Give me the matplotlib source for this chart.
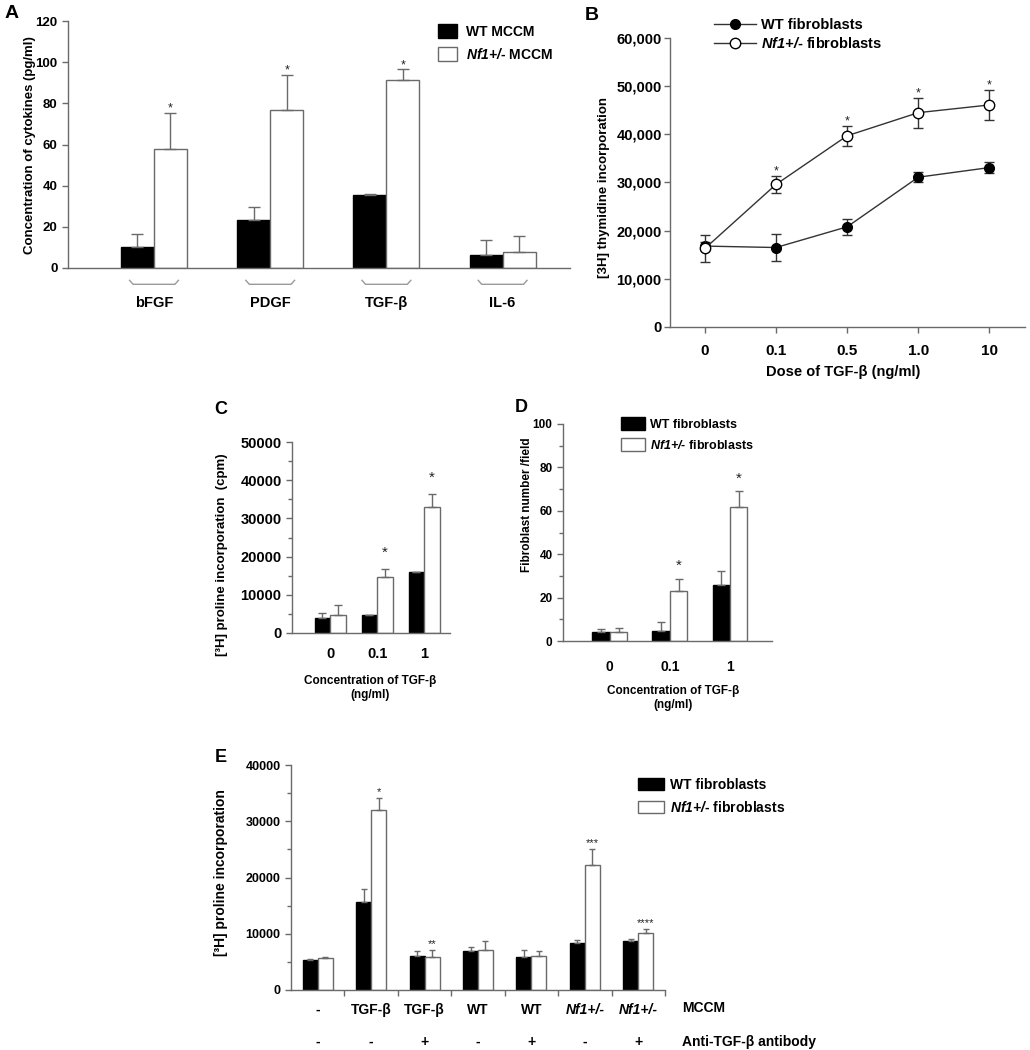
import matplotlib
matplotlib.use('Agg')
import numpy as np
import matplotlib.pyplot as plt
from matplotlib import transforms
from matplotlib.patches import Patch
from matplotlib.lines import Line2D

plt.rcParams['font.family'] = ['Liberation Sans', 'DejaVu Sans']
plt.rcParams['font.weight'] = 'bold'
plt.rcParams['mathtext.fontset'] = 'custom'
plt.rcParams['mathtext.it'] = 'Liberation Sans:italic:bold'
plt.rcParams['mathtext.rm'] = 'Liberation Sans:italic:bold'
plt.rcParams['mathtext.bf'] = 'Liberation Sans:italic:bold'

# ---- data ----
# A: cytokines in MCCM (pg/ml)
A_cats = ['bFGF', 'PDGF', 'TGF-β', 'IL-6']
A_wt = [10, 23.5, 35.5, 6.5]
A_wt_err = [6.5, 6, 0.3, 7]
A_nf1 = [58, 77, 91.5, 8]
A_nf1_err = [17.5, 17, 5, 7.5]
A_stars = ['*', '*', '*', '']

# B: thymidine incorporation vs TGF-b dose
B_doses = ['0', '0.1', '0.5', '1.0', '10']
B_wt = [16800, 16500, 20800, 31100, 33100]
B_wt_err = [800, 2900, 1700, 1100, 1100]
B_nf1 = [16300, 29600, 39700, 44500, 46100]
B_nf1_err = [2900, 1800, 2100, 3100, 3100]
B_stars = ['', '*', '*', '*', '*']

# C: proline incorporation (cpm)
C_conc = ['0', '0.1', '1']
C_wt = [3800, 4600, 15900]
C_wt_err = [1400, 100, 100]
C_nf1 = [4700, 14600, 32900]
C_nf1_err = [2500, 2200, 3500]
C_stars = ['', '*', '*']

# D: fibroblast number / field
D_conc = ['0', '0.1', '1']
D_wt = [4.0, 4.8, 26.0]
D_wt_err = [1.4, 3.8, 6.2]
D_nf1 = [4.0, 22.9, 61.7]
D_nf1_err = [1.8, 5.9, 7.5]
D_stars = ['', '*', '*']

# E: proline incorporation with MCCM / antibody
E_mccm = ['-', 'TGF-β', 'TGF-β', 'WT', 'WT', 'Nf1+/-', 'Nf1+/-']
E_anti = ['-', '-', '+', '-', '+', '-', '+']
E_wt = [5330, 15600, 6040, 6870, 5870, 8410, 8650]
E_wt_err = [120, 2300, 830, 830, 1240, 480, 350]
E_nf1 = [5630, 32000, 5930, 7110, 6100, 22280, 10070]
E_nf1_err = [300, 2200, 1120, 1540, 770, 2790, 720]
E_stars = ['', '*', '**', '', '', '***', '****']

W, H = 1030, 1050
GREY = '#6a6a6a'
fig = plt.figure(figsize=(W / 100, H / 100), dpi=100)


def rect(x0, y0, x1, y1):
    return [x0 / W, 1 - y1 / H, (x1 - x0) / W, (y1 - y0) / H]


def ftext(x, y, s, **kw):
    kw.setdefault('ha', 'center')
    kw.setdefault('va', 'center')
    return fig.text(x / W, 1 - y / H, s, **kw)


def style(ax, size=9):
    for s in ['top', 'right']:
        ax.spines[s].set_visible(False)
    for s in ['left', 'bottom']:
        ax.spines[s].set_color(GREY)
        ax.spines[s].set_linewidth(1)
    ax.tick_params(colors=GREY, labelcolor='black', labelsize=size, direction='out', length=4, width=1)
    ax.tick_params(which='minor', colors=GREY, direction='out', length=3, width=1)
    for lab in ax.get_yticklabels() + ax.get_xticklabels():
        lab.set_fontweight('bold')


def bars(ax, x, wt, wt_err, nf, nf_err, width, cap):
    x = np.asarray(x, dtype=float)
    ax.bar(x - width / 2, wt, width, color='black', edgecolor='black', lw=1, zorder=2)
    ax.bar(x + width / 2, nf, width, color='white', edgecolor=GREY, lw=1, zorder=2)
    ax.errorbar(x - width / 2, wt, yerr=[np.zeros(len(wt)), wt_err], fmt='none',
                ecolor=GREY, elinewidth=1, capsize=cap, capthick=1, zorder=3)
    ax.errorbar(x + width / 2, nf, yerr=[np.zeros(len(nf)), nf_err], fmt='none',
                ecolor=GREY, elinewidth=1, capsize=cap, capthick=1, zorder=3)


def stars(ax, xs, tops, labels, dy, size):
    for x, t, s in zip(xs, tops, labels):
        if s:
            ax.annotate(s, (x, t), xytext=(0, dy), textcoords='offset points',
                        ha='center', va='baseline', fontsize=size, color='#222222',
                        fontweight='normal', annotation_clip=False)


# italic "Nf1+/" via mathtext, hyphen kept as plain text
nf_leg = r'$Nf1{+}/$-'

# ---------------- A ----------------
axA = fig.add_axes(rect(68, 21, 570, 268))
xA = np.arange(len(A_cats))
wA = 0.284
bars(axA, xA, A_wt, A_wt_err, A_nf1, A_nf1_err, wA, 4.5)
axA.set_xlim(-0.74, 3.58)
axA.set_ylim(0, 120)
axA.set_yticks(np.arange(0, 121, 20))
axA.set_xticks([])
style(axA, 9.5)
stars(axA, xA + wA / 2, np.add(A_nf1, A_nf1_err), A_stars, 1, 9)
trA = transforms.blended_transform_factory(axA.transData, axA.transAxes)
for x, c in zip(xA, A_cats):
    axA.plot([x - 0.21, x - 0.18, x + 0.18, x + 0.21], [-0.05, -0.066, -0.066, -0.05],
             transform=trA, color='#999999', lw=1, clip_on=False)
    axA.text(x, -0.142, c, transform=trA, ha='center', va='center', fontsize=10.5, fontweight='bold')
ftext(30, 145, 'Concentration of cytokines (pg/ml)', rotation=90, fontsize=9.5, fontweight='bold')
ftext(12, 14, 'A', fontsize=14, fontweight='bold')
fig.legend([Patch(fc='black', ec='black'), Patch(fc='white', ec=GREY)],
           ['WT MCCM', nf_leg + ' MCCM'], loc='upper left',
           bbox_to_anchor=(438 / W, 1 - 24 / H), frameon=False, borderpad=0, borderaxespad=0,
           handlelength=1.37, handleheight=1.22, handletextpad=0.65, labelspacing=0.55,
           prop=dict(weight='bold', size=10))

# ---------------- B ----------------
axB = fig.add_axes(rect(670, 38, 1025, 327))
xB = np.arange(len(B_doses))
axB.errorbar(xB, B_wt, yerr=B_wt_err, fmt='-o', color='#333333', mfc='black', mec='black',
             ms=7, lw=1, elinewidth=1, capsize=3.5, capthick=1, zorder=3)
axB.errorbar(xB, B_nf1, yerr=B_nf1_err, fmt='-o', color='#333333', mfc='white', mec='black',
             ms=7.5, lw=1, elinewidth=1, capsize=3.5, capthick=1, zorder=4)
axB.set_xlim(-0.49, 4.5)
axB.set_ylim(0, 60000)
axB.set_yticks(np.arange(0, 60001, 10000))
axB.set_yticklabels(['{:,}'.format(v) for v in range(0, 60001, 10000)])
axB.set_xticks(xB)
axB.set_xticklabels(B_doses)
style(axB, 10.5)
axB.tick_params(axis='y', pad=2)
axB.tick_params(axis='x', pad=8, labelsize=11)
stars(axB, xB, np.add(B_nf1, B_nf1_err), B_stars, 1, 9)
ftext(843, 372, 'Dose of TGF-β (ng/ml)', fontsize=10.5, fontweight='bold')
ftext(604, 187, '[3H] thymidine incorporation', rotation=90, fontsize=9.5, fontweight='bold')
ftext(592, 15, 'B', fontsize=14, fontweight='bold')
fig.legend([Line2D([0], [0], color='#333333', marker='o', mfc='black', mec='black', ms=7, lw=1),
            Line2D([0], [0], color='#333333', marker='o', mfc='white', mec='black', ms=7.5, lw=1)],
           ['WT fibroblasts', nf_leg + ' fibroblasts'], loc='upper left',
           bbox_to_anchor=(714 / W, 1 - 18 / H), frameon=False, borderpad=0, borderaxespad=0,
           handlelength=2.9, handletextpad=0.35, labelspacing=0.3, numpoints=1,
           prop=dict(weight='bold', size=10.5))

# ---------------- C ----------------
axC = fig.add_axes(rect(292, 442, 450, 633))
xC = np.arange(len(C_conc))
wC = 0.33
bars(axC, xC, C_wt, C_wt_err, C_nf1, C_nf1_err, wC, 3)
axC.set_xlim(-0.81, 2.55)
axC.set_ylim(0, 50000)
axC.set_yticks(np.arange(0, 50001, 10000))
axC.set_yticks(np.arange(5000, 50000, 10000), minor=True)
axC.set_xticks(xC)
axC.set_xticklabels(C_conc)
style(axC, 10.5)
axC.tick_params(axis='x', length=0, pad=10)
stars(axC, xC + wC / 2, np.add(C_nf1, C_nf1_err), C_stars, 9, 11)
ftext(370, 688, 'Concentration of TGF-β\n(ng/ml)', fontsize=8.5, fontweight='bold', linespacing=1.3)
ftext(222, 555, '[³H] proline incorporation  (cpm)', rotation=90, fontsize=9.5, fontweight='bold')
ftext(221, 410, 'C', fontsize=13, fontweight='bold')

# ---------------- D ----------------
axD = fig.add_axes(rect(563, 424, 772, 641))
xD = np.arange(len(D_conc))
wD = 0.29
bars(axD, xD, D_wt, D_wt_err, D_nf1, D_nf1_err, wD, 3)
axD.set_xlim(-0.78, 2.7)
axD.set_ylim(0, 100)
axD.set_yticks(np.arange(0, 101, 20))
axD.set_yticks(np.arange(10, 100, 20), minor=True)
axD.set_xticks(xD)
axD.set_xticklabels(D_conc)
style(axD, 8.5)
axD.tick_params(axis='x', length=0, pad=14, labelsize=10)
stars(axD, xD + wD / 2, np.add(D_nf1, D_nf1_err), D_stars, 6, 11)
ftext(673, 698, 'Concentration of TGF-β\n(ng/ml)', fontsize=8.5, fontweight='bold', linespacing=1.2)
ftext(527, 505, 'Fibroblast number /field', rotation=90, fontsize=8.5, fontweight='bold')
ftext(521, 408, 'D', fontsize=13, fontweight='bold')
fig.legend([Patch(fc='black', ec='black'), Patch(fc='white', ec=GREY)],
           ['WT fibroblasts', nf_leg + ' fibroblasts'], loc='upper left',
           bbox_to_anchor=(621 / W, 1 - 417 / H), frameon=False, borderpad=0, borderaxespad=0,
           handlelength=1.92, handleheight=1.2, handletextpad=0.4, labelspacing=0.6,
           prop=dict(weight='bold', size=9))

# ---------------- E ----------------
axE = fig.add_axes(rect(291, 765, 665, 990))
xE = np.arange(len(E_mccm))
wE = 0.28
bars(axE, xE, E_wt, E_wt_err, E_nf1, E_nf1_err, wE, 2)
axE.set_xlim(-0.5, 6.5)
axE.set_ylim(0, 40000)
axE.set_yticks(np.arange(0, 40001, 10000))
axE.set_yticks(np.arange(5000, 40000, 10000), minor=True)
axE.set_xticks(xE + 0.5)
axE.set_xticklabels([])
style(axE, 9)
stars(axE, xE + wE / 2, np.add(E_nf1, E_nf1_err), E_stars, 2, 8)
trE = transforms.blended_transform_factory(axE.transData, axE.transAxes)
for x, m, a in zip(xE, E_mccm, E_anti):
    axE.text(x, -0.089, m, transform=trE, ha='center', va='center', fontsize=10,
             fontweight='bold', style='italic' if m.startswith('Nf1') else 'normal')
    axE.text(x, -0.231, a, transform=trE, ha='center', va='center', fontsize=10, fontweight='bold')
ftext(682, 1008, 'MCCM', ha='left', fontsize=10, fontweight='bold')
ftext(682, 1042, 'Anti-TGF-β antibody', ha='left', fontsize=10, fontweight='bold')
ftext(221, 873, '[³H] proline incorporation', rotation=90, fontsize=10, fontweight='bold')
ftext(221, 757, 'E', fontsize=13, fontweight='bold')
fig.legend([Patch(fc='black', ec='black'), Patch(fc='white', ec=GREY)],
           ['WT fibroblasts', nf_leg + ' fibroblasts'], loc='upper left',
           bbox_to_anchor=(638 / W, 1 - 778 / H), frameon=False, borderpad=0, borderaxespad=0,
           handlelength=1.87, handleheight=0.9, handletextpad=0.45, labelspacing=0.58,
           prop=dict(weight='bold', size=10))

fig.savefig('out.png', dpi=100, facecolor='white')
